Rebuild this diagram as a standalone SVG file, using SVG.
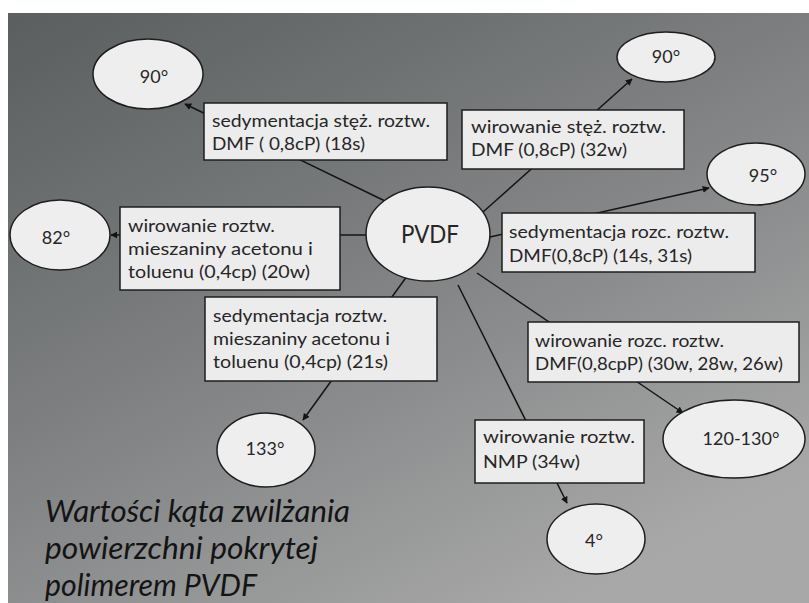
<svg xmlns="http://www.w3.org/2000/svg" width="809" height="603" viewBox="0 0 809 603">
<style>
.bg{fill:url(#bgGrad)}
.ell{fill:#eeeeee;stroke:#1e1e1e;stroke-width:1.5}
.box{fill:#ececec;stroke:#1e1e1e;stroke-width:1.5}
.t{font-family:Lato,"Liberation Sans","DejaVu Sans",sans-serif;font-size:17px;fill:#262626}
.deg{font-family:Lato,"Liberation Sans","DejaVu Sans",sans-serif;font-size:18px;fill:#262626;text-anchor:middle}
.big{font-family:Lato,"Liberation Sans","DejaVu Sans",sans-serif;font-size:25px;fill:#262626}
.cap{font-family:Lato,"Liberation Sans","DejaVu Sans",sans-serif;font-size:30px;font-style:italic;fill:#141414}
.con{stroke:#141414;stroke-width:1.5;fill:none;marker-end:url(#arr)}
</style>
<defs>
<linearGradient id="bgGrad" x1="0" y1="0" x2="0.7" y2="1">
<stop offset="0" stop-color="#5a5e5f"/>
<stop offset="0.5" stop-color="#7e8081"/>
<stop offset="1" stop-color="#a8a8a8"/>
</linearGradient>
<marker id="arr" viewBox="0 0 10 10" refX="9" refY="5" markerWidth="7" markerHeight="7" markerUnits="userSpaceOnUse" orient="auto">
<path d="M0,0 L10,5 L0,10 z" fill="#141414"/>
</marker>
</defs>
<rect x="0" y="0" width="809" height="603" fill="#ffffff"/>
<rect class="bg" x="8" y="13" width="801" height="590"/>

<g id="connectors">
<line class="con" x1="385" y1="201" x2="185" y2="104"/>
<line class="con" x1="483" y1="212" x2="632" y2="79"/>
<line class="con" x1="490" y1="237" x2="709" y2="188"/>
<line class="con" x1="366" y1="235" x2="111" y2="235"/>
<line class="con" x1="410" y1="272" x2="303" y2="420"/>
<line class="con" x1="477" y1="273" x2="683" y2="413"/>
<line class="con" x1="458" y1="285" x2="567" y2="503"/>
</g>

<g id="pvdf">
<ellipse class="ell" cx="428" cy="234" rx="62" ry="47"/>
<text class="big" x="401" y="243" textLength="58" lengthAdjust="spacingAndGlyphs">PVDF</text>
</g>

<g id="n90-left">
<ellipse class="ell" cx="148" cy="74" rx="55" ry="35"/>
<text class="deg" x="154" y="83">90°</text>
</g>
<g id="n90-right">
<ellipse class="ell" cx="666" cy="57" rx="49" ry="25"/>
<text class="deg" x="666" y="63">90°</text>
</g>
<g id="n95">
<ellipse class="ell" cx="756" cy="174" rx="49" ry="31"/>
<text class="deg" x="763" y="182">95°</text>
</g>
<g id="n82">
<ellipse class="ell" cx="60" cy="235" rx="50" ry="35"/>
<text class="deg" x="56" y="244">82°</text>
</g>
<g id="n133">
<ellipse class="ell" cx="266" cy="450" rx="49" ry="37"/>
<text class="deg" x="265" y="455">133°</text>
</g>
<g id="n120-130">
<ellipse class="ell" cx="734" cy="439" rx="71" ry="39"/>
<text class="deg" x="741" y="445">120-130°</text>
</g>
<g id="n4">
<ellipse class="ell" cx="596" cy="539" rx="49" ry="35"/>
<text class="deg" x="594" y="547">4°</text>
</g>

<g id="label-sed-stez">
<rect class="box" x="204" y="103" width="243" height="57"/>
<text class="t" x="212" y="127" textLength="218" lengthAdjust="spacingAndGlyphs">sedymentacja stęż. roztw.</text>
<text class="t" x="212" y="150" textLength="153" lengthAdjust="spacingAndGlyphs">DMF ( 0,8cP) (18s)</text>
</g>
<g id="label-wir-stez">
<rect class="box" x="462" y="110" width="222" height="59"/>
<text class="t" x="471" y="133" textLength="195" lengthAdjust="spacingAndGlyphs">wirowanie  stęż. roztw.</text>
<text class="t" x="471" y="156" textLength="156" lengthAdjust="spacingAndGlyphs">DMF (0,8cP) (32w)</text>
</g>
<g id="label-wir-miesz">
<rect class="box" x="120" y="207" width="220" height="83"/>
<text class="t" x="128" y="232" textLength="147" lengthAdjust="spacingAndGlyphs">wirowanie roztw.</text>
<text class="t" x="128" y="255" textLength="185" lengthAdjust="spacingAndGlyphs">mieszaniny acetonu  i</text>
<text class="t" x="128" y="278" textLength="182" lengthAdjust="spacingAndGlyphs">toluenu (0,4cp) (20w)</text>
</g>
<g id="label-sed-miesz">
<rect class="box" x="205" y="297" width="232" height="84"/>
<text class="t" x="213" y="322" textLength="174" lengthAdjust="spacingAndGlyphs">sedymentacja roztw.</text>
<text class="t" x="213" y="345" textLength="177" lengthAdjust="spacingAndGlyphs">mieszaniny acetonu i</text>
<text class="t" x="213" y="368" textLength="175" lengthAdjust="spacingAndGlyphs">toluenu (0,4cp) (21s)</text>
</g>
<g id="label-sed-rozc">
<rect class="box" x="502" y="213" width="253" height="59"/>
<text class="t" x="509" y="238" textLength="220" lengthAdjust="spacingAndGlyphs">sedymentacja rozc. roztw.</text>
<text class="t" x="509" y="262" textLength="183" lengthAdjust="spacingAndGlyphs">DMF(0,8cP) (14s, 31s)</text>
</g>
<g id="label-wir-rozc">
<rect class="box" x="528" y="322" width="271" height="60"/>
<text class="t" x="535" y="347" textLength="189" lengthAdjust="spacingAndGlyphs">wirowanie rozc. roztw.</text>
<text class="t" x="535" y="370" textLength="248" lengthAdjust="spacingAndGlyphs">DMF(0,8cpP) (30w, 28w, 26w)</text>
</g>
<g id="label-wir-nmp">
<rect class="box" x="475" y="420" width="169" height="63"/>
<text class="t" x="483" y="443" textLength="152" lengthAdjust="spacingAndGlyphs">wirowanie  roztw.</text>
<text class="t" x="483" y="468" textLength="97" lengthAdjust="spacingAndGlyphs">NMP (34w)</text>
</g>

<g id="caption">
<text class="cap" x="45" y="522" textLength="305" lengthAdjust="spacingAndGlyphs">Wartości kąta zwilżania</text>
<text class="cap" x="45" y="559" textLength="273" lengthAdjust="spacingAndGlyphs">powierzchni pokrytej</text>
<text class="cap" x="45" y="596" textLength="212" lengthAdjust="spacingAndGlyphs">polimerem PVDF</text>
</g>
</svg>
